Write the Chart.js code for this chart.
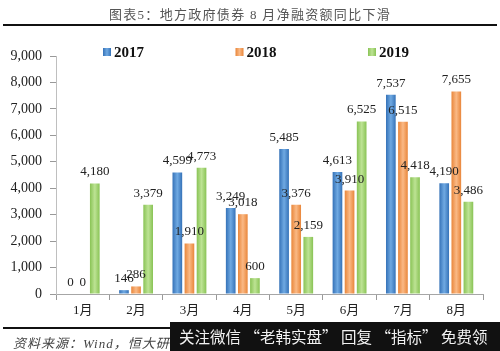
<!DOCTYPE html>
<html>
<head>
<meta charset="utf-8">
<script src="https://cdn.jsdelivr.net/npm/chart.js@4.4.1/dist/chart.umd.min.js"></script>
<style>
  html, body { margin: 0; padding: 0; background: #fff; }
  #wrap { position: relative; width: 500px; height: 351px; overflow: hidden; background: #fff; }
  #c { position: absolute; left: 0; top: 0; }
  #title { position: absolute; left: 0; top: 4px; width: 500px; text-align: center;
           font: 13px 'Liberation Serif', 'Noto Sans CJK SC', serif; color: #555; letter-spacing: 1.3px; }
  .rule { position: absolute; left: 3px; height: 2px; background: #111; }
  #source { position: absolute; left: 13px; top: 333px; font: italic 13px 'Liberation Serif', 'Noto Sans CJK SC', serif;
            color: #444; letter-spacing: 1px; white-space: nowrap; }
  #mark { position: absolute; left: 170px; top: 322px; width: 330px; height: 29px; background: #111;
          color: #f2f2f2; font: 15.5px 'Noto Sans CJK SC', sans-serif; line-height: 29px; padding-left: 9px;
          box-sizing: border-box; white-space: nowrap; }
</style>
</head>
<body>
<div id="wrap">
  <canvas id="c" width="500" height="351"></canvas>
  <div id="title">图表5：地方政府债券 8 月净融资额同比下滑</div>
  <div class="rule" style="top:24px; width:494px;"></div>
  <div class="rule" style="top:327px; width:200px;"></div>
  <div id="source">资料来源：Wind，恒大研究院</div>
  <div id="mark">关注微信 “老韩实盘” 回复 “指标” 免费领</div>
</div>
<script>
const categories = ['1月', '2月', '3月', '4月', '5月', '6月', '7月', '8月'];
const seriesNames = ['2017', '2018', '2019'];
const values2017 = [0, 146, 4599, 3249, 5485, 4613, 7537, 4190];
const values2018 = [0, 286, 1910, 3018, 3376, 3910, 6515, 7655];
const values2019 = [4180, 3379, 4773, 600, 2159, 6525, 4418, 3486];
const yTicks = [0, 1000, 2000, 3000, 4000, 5000, 6000, 7000, 8000, 9000];

const palette = [
  { base: '#4a8cd2', edge: '#3572b8', mid: '#6fa9e2' },
  { base: '#f59d55', edge: '#e9863a', mid: '#fab985' },
  { base: '#a3d46f', edge: '#89c355', mid: '#bde394' }
];

function fmt(v) { return v.toLocaleString('en-US'); }

const gradientPlugin = {
  id: 'barGradient',
  beforeDatasetsDraw(chart) {
    const ctx = chart.ctx;
    chart.data.datasets.forEach((ds, i) => {
      const meta = chart.getDatasetMeta(i);
      const p = palette[i];
      meta.data.forEach(el => {
        const w = el.width;
        const g = ctx.createLinearGradient(el.x - w / 2, 0, el.x + w / 2, 0);
        g.addColorStop(0, p.edge);
        g.addColorStop(0.5, p.mid);
        g.addColorStop(1, p.edge);
        el.options = Object.assign({}, el.options, { backgroundColor: g });
      });
    });
  }
};

const labelPlugin = {
  id: 'valueLabels',
  afterDatasetsDraw(chart) {
    const ctx = chart.ctx;
    ctx.save();
    ctx.font = '13px "Liberation Serif", serif';
    ctx.fillStyle = '#222';
    ctx.textAlign = 'center';
    ctx.textBaseline = 'bottom';
    chart.data.datasets.forEach((ds, i) => {
      const meta = chart.getDatasetMeta(i);
      meta.data.forEach((el, j) => {
        ctx.fillText(fmt(ds.data[j]), el.x, el.y - 5);
      });
    });
    ctx.restore();
  }
};

const legendPlugin = {
  id: 'customLegend',
  afterDraw(chart) {
    const ctx = chart.ctx;
    ctx.save();
    ctx.font = 'bold 15px "Liberation Serif", serif';
    ctx.textBaseline = 'middle';
    ctx.textAlign = 'left';
    const startX = 103, step = 132.5, cy = 52;
    chart.data.datasets.forEach((ds, i) => {
      const x = startX + i * step;
      const p = palette[i];
      const g = ctx.createLinearGradient(x, 0, x + 8, 0);
      g.addColorStop(0, p.edge); g.addColorStop(0.5, p.mid); g.addColorStop(1, p.edge);
      ctx.fillStyle = g;
      ctx.fillRect(x, cy - 4, 8, 8);
      ctx.fillStyle = '#111';
      ctx.fillText(ds.label, x + 11, cy + 1);
    });
    ctx.restore();
  }
};

new Chart(document.getElementById('c'), {
  type: 'bar',
  data: {
    labels: categories,
    datasets: [
      { label: seriesNames[0], data: values2017, backgroundColor: palette[0].base },
      { label: seriesNames[1], data: values2018, backgroundColor: palette[1].base },
      { label: seriesNames[2], data: values2019, backgroundColor: palette[2].base }
    ]
  },
  options: {
    responsive: false,
    animation: false,
    devicePixelRatio: 1,
    categoryPercentage: 0.68,
    barPercentage: 0.8,
    layout: { padding: { top: 56, left: 0, right: 17, bottom: 0 } },
    plugins: { legend: { display: false }, tooltip: { enabled: false } },
    scales: {
      x: {
        grid: { drawOnChartArea: false, offset: true, color: '#999', tickLength: 6 },
        border: { color: '#a6a6a6', width: 1 },
        ticks: { font: { size: 13, family: '"Liberation Serif", "Noto Sans CJK SC", serif' }, color: '#222', padding: 3 },
        afterFit(s) { s.height = 57; }
      },
      y: {
        min: 0, max: 9000,
        afterBuildTicks(s) { s.ticks = yTicks.map(v => ({ value: v })); },
        grid: { drawOnChartArea: false, color: '#999', tickLength: 6 },
        border: { color: '#bfbfbf', width: 1 },
        ticks: { font: { size: 14, family: '"Liberation Serif", serif' }, color: '#222', padding: 8,
                 callback: v => fmt(v) },
        afterFit(s) { s.width = 56; }
      }
    }
  },
  plugins: [gradientPlugin, labelPlugin, legendPlugin]
});
</script>
</body>
</html>
